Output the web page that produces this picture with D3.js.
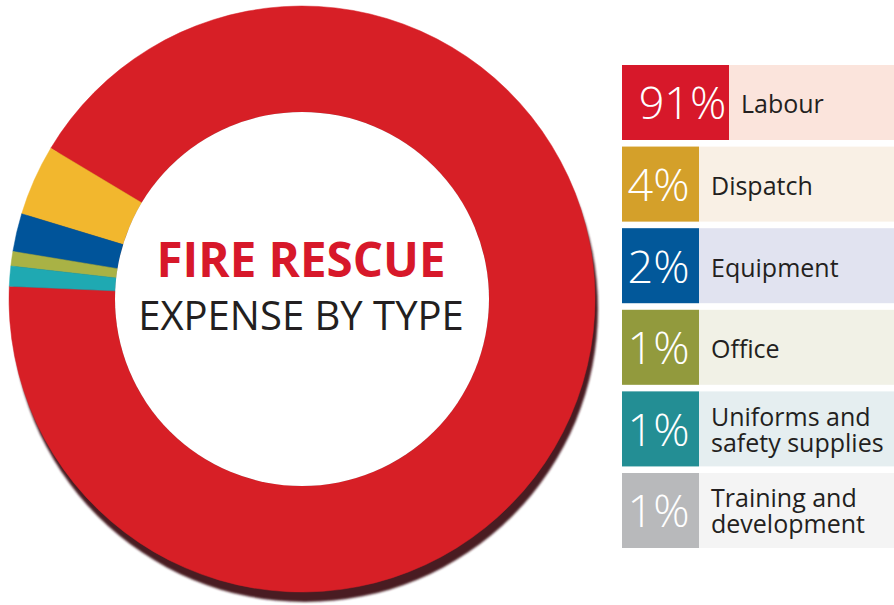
<!DOCTYPE html>
<html>
<head>
<meta charset="utf-8">
<script src="https://cdn.jsdelivr.net/npm/d3@7"></script>
<style>
  html, body { margin: 0; padding: 0; background: #ffffff; }
  svg { display: block; }
</style>
</head>
<body>
<svg id="chart" width="894" height="605"></svg>
<script>
// ---- data ----
const categories = ["Labour", "Dispatch", "Equipment", "Office", "Uniforms and safety supplies", "Training and development"];
const labelLines = [["Labour"], ["Dispatch"], ["Equipment"], ["Office"], ["Uniforms and", "safety supplies"], ["Training and", "development"]];
const percentLabels = ["91%", "4%", "2%", "1%", "1%", "1%"];
// ring shares
const sliceShares = [92.0, 3.9, 2.1, 0.8, 1.1, 0];
const sliceColors = ["#d71f26", "#f2b72e", "#00549a", "#a9b245", "#1fa9b2", "#b8b9bb"];
const boxColors = ["#d7182a", "#d4a02a", "#02589a", "#929a3d", "#238e94", "#b8b9bb"];
const panelColors = ["#fbe4dc", "#f9f0e5", "#e1e3f0", "#f1f1e6", "#e5eef0", "#f4f4f4"];
const titleLines = ["FIRE RESCUE", "EXPENSE BY TYPE"];

// ---- layout ----
const svg = d3.select("#chart");
const cx = 302, cy = 299, rOuter = 293, rInner = 187;
const deg = Math.PI / 180;
const a0 = 272.5 * deg;

const defs = svg.append("defs");
defs.append("filter").attr("id", "soft")
  .append("feGaussianBlur").attr("stdDeviation", 0.8);

const g = svg.append("g").attr("transform", `translate(${cx},${cy})`);

// drop shadow
g.append("circle")
  .attr("cx", 3).attr("cy", 10).attr("r", rOuter)
  .attr("fill", "#4a1d24")
  .attr("filter", "url(#soft)");

const pie = d3.pie().sort(null).value(d => d)
  .startAngle(a0).endAngle(a0 - 2 * Math.PI);
const arc = d3.arc().innerRadius(rInner).outerRadius(rOuter);

g.selectAll("path.slice")
  .data(pie(sliceShares))
  .join("path")
  .attr("class", "slice")
  .attr("d", arc)
  .attr("fill", (d, i) => sliceColors[i])
  .attr("stroke", (d, i) => d.value > 0 ? sliceColors[i] : "none")
  .attr("stroke-width", 0.5);

// hole
g.append("circle").attr("r", rInner).attr("fill", "#ffffff");

// centre title
g.append("text")
  .attr("x", -1).attr("y", -22)
  .attr("text-anchor", "middle")
  .attr("font-family", "'Open Sans', sans-serif")
  .attr("font-weight", 700)
  .attr("font-size", 47.5)
  .attr("fill", "#d7182a")
  .text(titleLines[0]);
g.append("text")
  .attr("x", -1).attr("y", 31)
  .attr("text-anchor", "middle")
  .attr("font-family", "'Open Sans', sans-serif")
  .attr("font-weight", 400)
  .attr("font-size", 40)
  .attr("fill", "#231f20")
  .text(titleLines[1]);

// ---- legend ----
const y = d3.scaleBand().domain(categories).range([65, 548]).paddingInner(0.081).paddingOuter(0);
const legendX = 622, legendRight = 894;

const rows = svg.append("g").selectAll("g.row")
  .data(categories)
  .join("g")
  .attr("class", "row")
  .attr("transform", d => `translate(0,${y(d)})`);

const bh = y.bandwidth();
const boxW = i => percentLabels[i].length > 2 ? 107 : 77;

rows.append("rect")
  .attr("x", legendX).attr("y", 0)
  .attr("width", legendRight - legendX).attr("height", bh)
  .attr("fill", (d, i) => panelColors[i]);

rows.append("rect")
  .attr("x", legendX).attr("y", 0)
  .attr("width", (d, i) => boxW(i)).attr("height", bh)
  .attr("fill", (d, i) => boxColors[i]);

rows.append("text")
  .attr("x", (d, i) => legendX + boxW(i) / 2 + (i === 0 ? 7 : -2))
  .attr("y", bh / 2 + 17)
  .attr("text-anchor", "middle")
  .attr("font-family", "'Open Sans', sans-serif")
  .attr("font-weight", 300)
  .attr("font-size", 45)
  .attr("fill", "#ffffff")
  .text((d, i) => percentLabels[i]);

rows.each(function(d, i) {
  const lines = labelLines[i];
  const x0 = legendX + boxW(i) + 12;
  const base = lines.length === 1 ? bh / 2 + 11 : bh / 2 - 3;
  lines.forEach((ln, k) => {
    d3.select(this).append("text")
      .attr("x", x0).attr("y", base + k * 26)
      .attr("font-family", "'Open Sans', sans-serif")
      .attr("font-weight", 400)
      .attr("font-size", 25)
      .attr("fill", "#231f20")
      .text(ln);
  });
});
</script>
</body>
</html>
